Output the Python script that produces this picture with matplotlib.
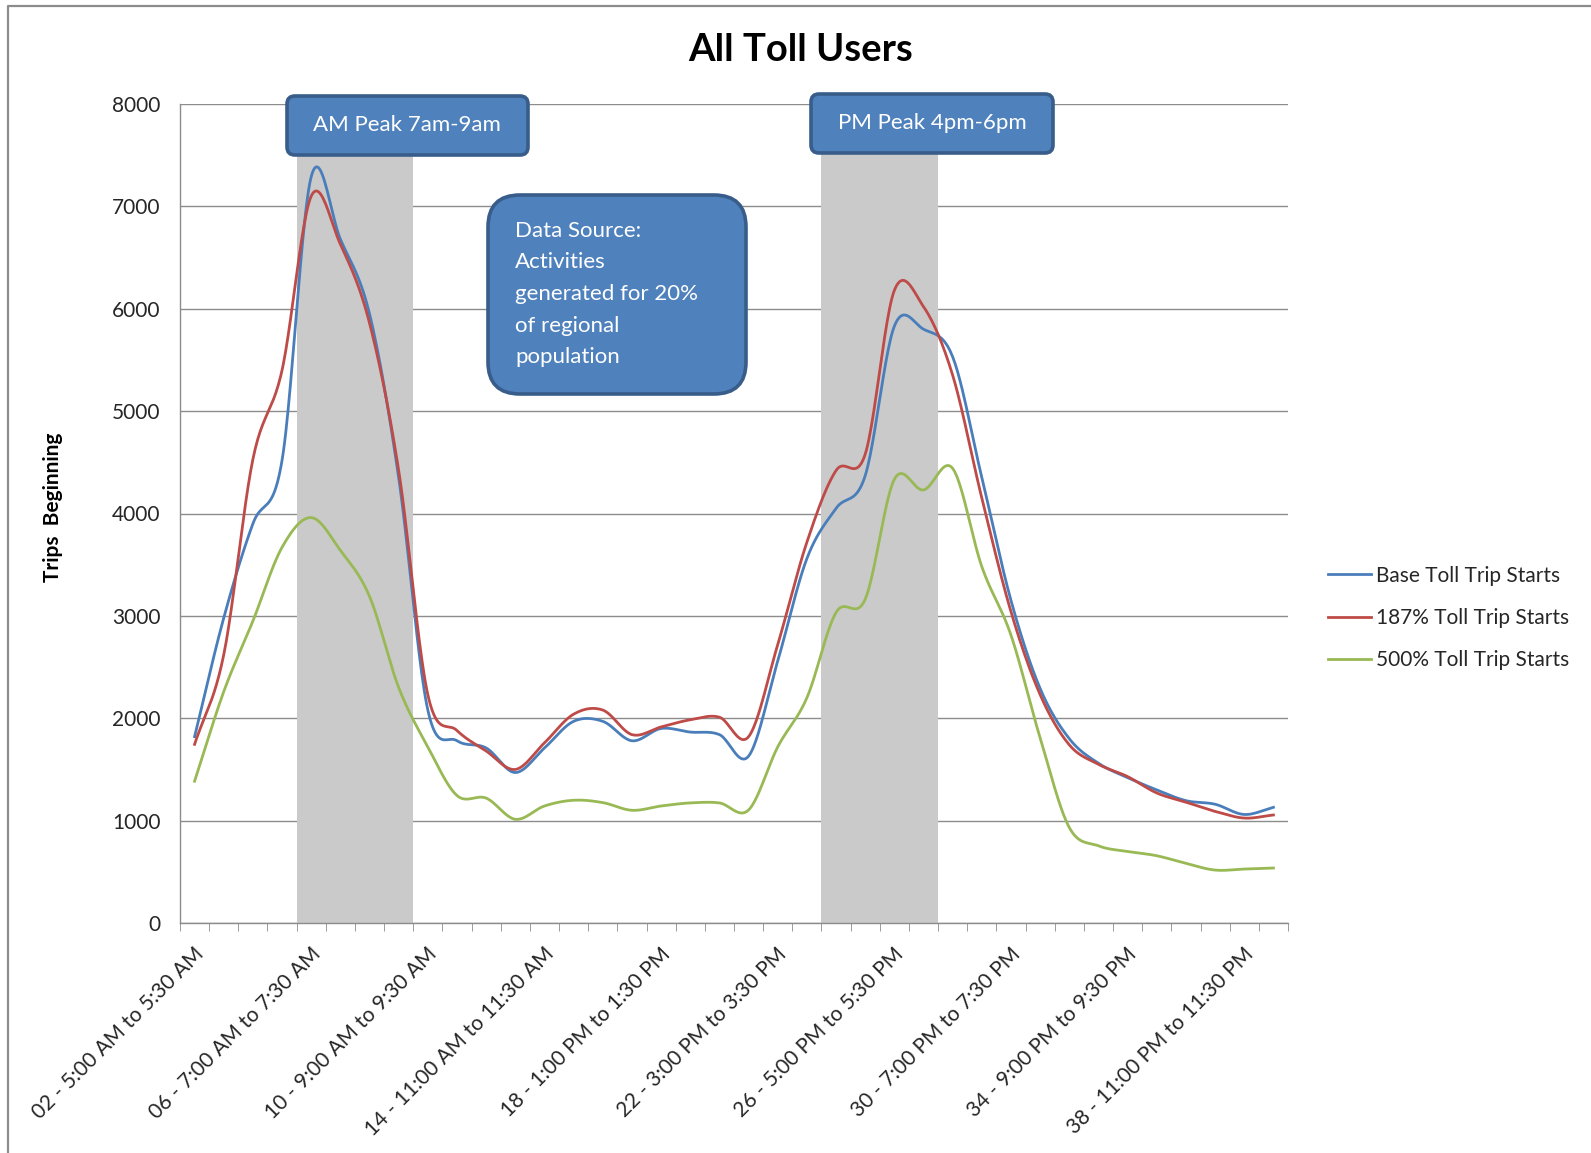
#!/usr/bin/env python3
"""All Toll Users: trip starts by half-hour period."""

import matplotlib

matplotlib.use("Agg")
import matplotlib.pyplot as plt
import matplotlib.transforms as mtransforms
import numpy as np
from matplotlib.patches import FancyBboxPatch

W, H = 1591, 1153

PERIOD_IDS = list(range(2, 40))
LABEL_IDS = [2, 6, 10, 14, 18, 22, 26, 30, 34, 38]
SERIES_NAMES = ["Base Toll Trip Starts", "187% Toll Trip Starts", "500% Toll Trip Starts"]

base_starts = [1820, 2980, 3900, 4520, 7290, 6680, 5950, 4350, 2080, 1780,
               1710, 1470, 1710, 1970, 1970, 1780, 1900, 1865, 1840, 1630,
               2560, 3560, 4050, 4370, 5830, 5800, 5530, 4350, 3150, 2290,
               1800, 1560, 1420, 1300, 1195, 1160, 1060, 1130]
toll187_starts = [1745, 2620, 4530, 5400, 7100, 6630, 5860, 4420, 2230, 1880,
                  1680, 1500, 1760, 2040, 2080, 1840, 1915, 1985, 2010, 1820,
                  2720, 3720, 4420, 4580, 6180, 6020, 5350, 4150, 3040, 2230,
                  1740, 1550, 1430, 1270, 1180, 1090, 1025, 1055]
toll500_starts = [1385, 2260, 2950, 3670, 3960, 3640, 3190, 2300, 1720, 1245,
                  1220, 1013, 1143, 1199, 1176, 1101, 1143, 1173, 1173, 1104,
                  1720, 2200, 3033, 3163, 4334, 4230, 4440, 3480, 2811, 1807,
                  932, 754, 699, 657, 582, 517, 527, 537]

AM_PEAK_IDS = (6, 9)
PM_PEAK_IDS = (24, 27)

COLORS = ["#4A7EBB", "#BE4B48", "#98B954"]
BOX_FILL = "#4F81BD"
BOX_EDGE = "#385D8A"
FONT = ["Lato", "DejaVu Sans"]


def period_label(pid: int) -> str:
    start = 4 * 60 + 30 * pid
    end = start + 30

    def fmt(minutes: int) -> str:
        h, m = divmod(minutes % (24 * 60), 60)
        ampm = "AM" if h < 12 else "PM"
        h12 = h % 12 or 12
        return f"{h12}:{m:02d} {ampm}"

    return f"{pid:02d} - {fmt(start)} to {fmt(end)}"


def smooth(xs, ys, steps=24):
    # Catmull-Rom curve through the points, like Excel's smoothed line
    xs = np.asarray(xs, float)
    ys = np.asarray(ys, float)
    px = np.concatenate([[2 * xs[0] - xs[1]], xs, [2 * xs[-1] - xs[-2]]])
    py = np.concatenate([[2 * ys[0] - ys[1]], ys, [2 * ys[-1] - ys[-2]]])
    out_x, out_y = [], []
    t = np.linspace(0, 1, steps, endpoint=False)
    for i in range(1, len(px) - 2):
        for p, out in ((px, out_x), (py, out_y)):
            p0, p1, p2, p3 = p[i - 1], p[i], p[i + 1], p[i + 2]
            m1 = (p2 - p0) / 2
            m2 = (p3 - p1) / 2
            h00 = 2 * t**3 - 3 * t**2 + 1
            h10 = t**3 - 2 * t**2 + t
            h01 = -2 * t**3 + 3 * t**2
            h11 = t**3 - t**2
            out.extend(h00 * p1 + h10 * m1 + h01 * p2 + h11 * m2)
    out_x.append(xs[-1])
    out_y.append(ys[-1])
    return np.array(out_x), np.array(out_y)


def main() -> None:
    plt.rcParams["font.family"] = FONT
    fig = plt.figure(figsize=(W / 100, H / 100), dpi=100)
    px = mtransforms.Affine2D().scale(1 / W, -1 / H).translate(0, 1) + fig.transFigure

    # outer chart border
    fig.add_artist(plt.Line2D([8, 8, W], [H, 6, 6], transform=px, color="#8C8C8C", lw=1.6))

    left, right, top, bottom = 180, 1288, 104, 923
    ax = fig.add_axes([left / W, 1 - bottom / H, (right - left) / W, (bottom - top) / H])

    xs = np.arange(len(PERIOD_IDS))
    for pid0, pid1 in (AM_PEAK_IDS, PM_PEAK_IDS):
        ax.axvspan(PERIOD_IDS.index(pid0) - 0.5, PERIOD_IDS.index(pid1) + 0.5,
                   color="#CACACA", lw=0, zorder=1)

    for name, vals, color in zip(SERIES_NAMES, [base_starts, toll187_starts, toll500_starts], COLORS):
        sx, sy = smooth(xs, vals)
        ax.plot(sx, sy, color=color, lw=2.0, label=name, zorder=3)

    ax.set_xlim(-0.5, len(PERIOD_IDS) - 0.5)
    ax.set_ylim(0, 8000)
    ax.set_yticks(np.arange(0, 8001, 1000))
    ax.yaxis.grid(True, color="#8C8C8C", lw=1.0, zorder=0)
    ax.set_axisbelow(True)
    for side in ("top", "right"):
        ax.spines[side].set_visible(False)
    for side in ("left", "bottom"):
        ax.spines[side].set_color("#8C8C8C")
        ax.spines[side].set_linewidth(1.0)
    ax.tick_params(axis="y", length=0, pad=14, labelsize=15, labelcolor="#262626")

    label_pos = [PERIOD_IDS.index(p) for p in LABEL_IDS]
    ax.set_xticks(label_pos)
    ax.set_xticklabels([period_label(p) for p in LABEL_IDS], rotation=45, ha="right",
                       va="center", rotation_mode="anchor", fontsize=15, color="#262626")
    ax.tick_params(axis="x", which="major", length=0, pad=20)
    ax.set_xticks(np.arange(-0.5, len(PERIOD_IDS)), minor=True)
    ax.tick_params(axis="x", which="minor", length=6, color="#8C8C8C", direction="out")
    shift = mtransforms.ScaledTranslation(6 / 100, 0, fig.dpi_scale_trans)
    for lbl in ax.get_xticklabels():
        lbl.set_transform(lbl.get_transform() + shift)

    fig.text(801, 50, "All Toll Users", transform=px, ha="center", va="center",
             fontsize=27.5, fontweight="bold", color="black")
    fig.text(53, 507, "Trips  Beginning", transform=px, ha="center", va="center",
             rotation=90, fontsize=15, fontweight="bold", color="black")

    def box(x0, y0, x1, y1, rounding):
        patch = FancyBboxPatch((x0, y0), x1 - x0, y1 - y0, transform=px,
                               boxstyle=f"round,pad=0,rounding_size={rounding}",
                               facecolor=BOX_FILL, edgecolor=BOX_EDGE, lw=2.6, zorder=5)
        fig.add_artist(patch)

    box(287, 96, 528, 155, 8)
    fig.text(407, 125, "AM Peak 7am-9am", transform=px, ha="center", va="center",
             fontsize=16, color="white", zorder=6)
    box(811, 94, 1053, 153, 8)
    fig.text(932, 123, "PM Peak 4pm-6pm", transform=px, ha="center", va="center",
             fontsize=16, color="white", zorder=6)
    box(488, 195, 746, 394, 32)
    source_lines = ["Data Source:", "Activities", "generated for 20%", "of regional", "population"]
    for k, line in enumerate(source_lines):
        fig.text(515, 231 + 31.5 * k, line, transform=px, ha="left", va="center",
                 fontsize=16, color="white", zorder=6)

    leg = ax.legend(loc="center left", bbox_to_anchor=(1328, 618), bbox_transform=px,
                    frameon=False, fontsize=15, handlelength=2.05, handletextpad=0.25,
                    labelspacing=1.08, borderpad=0, borderaxespad=0)
    for t in leg.get_texts():
        t.set_color("#262626")

    fig.savefig("out.png", dpi=100)
    plt.close(fig)


if __name__ == "__main__":
    main()
